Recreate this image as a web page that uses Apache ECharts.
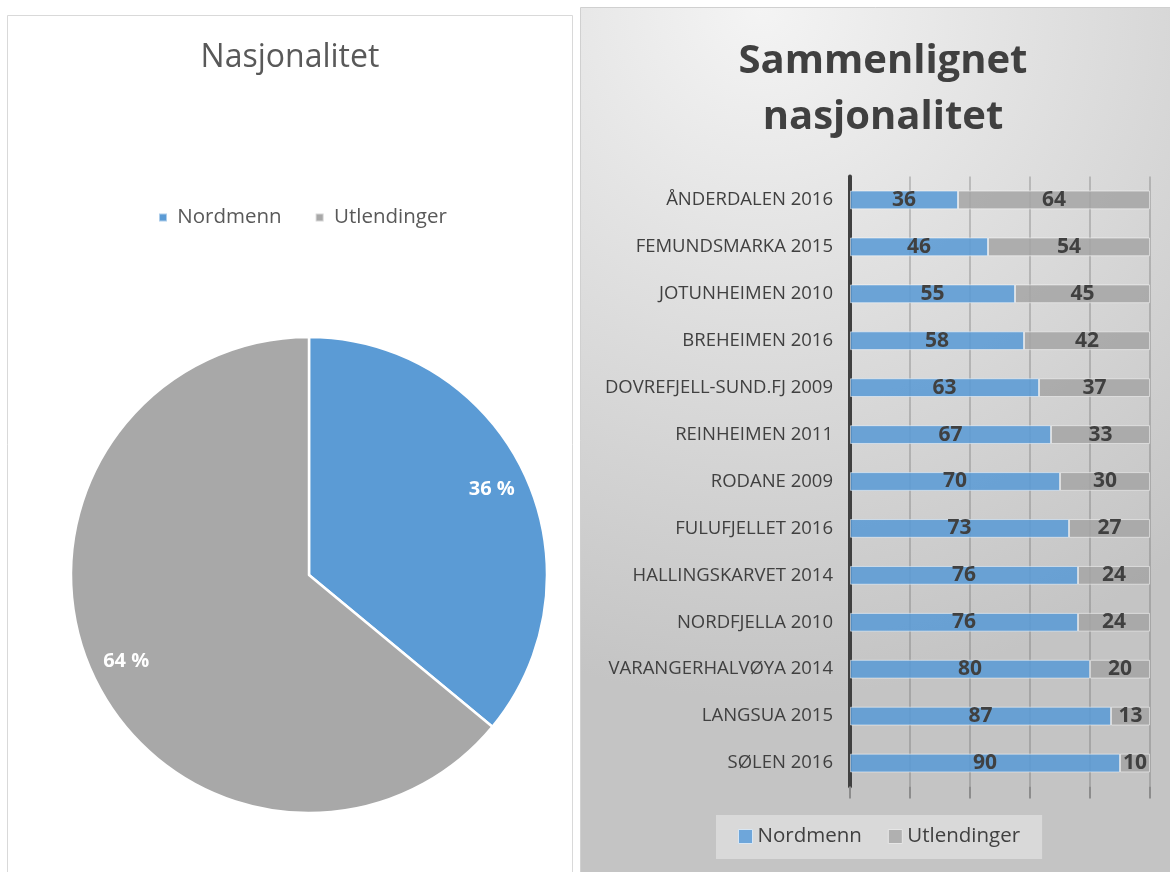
<!DOCTYPE html>
<html>
<head>
<meta charset="utf-8">
<script src="https://cdn.jsdelivr.net/npm/echarts@6/dist/echarts.min.js"></script>
<style>
  html, body { margin: 0; padding: 0; background: #fff; }
  #chart { width: 1170px; height: 872px; }
</style>
</head>
<body>
<div id="chart"></div>
<script>
// pie data
var pieNames = ['Nordmenn', 'Utlendinger']
var pieValues = [36, 64]

// bar data (top to bottom)
var categories = [
  'ÅNDERDALEN 2016', 'FEMUNDSMARKA 2015', 'JOTUNHEIMEN 2010', 'BREHEIMEN 2016',
  'DOVREFJELL-SUND.FJ 2009', 'REINHEIMEN 2011', 'RODANE 2009', 'FULUFJELLET 2016',
  'HALLINGSKARVET 2014', 'NORDFJELLA 2010', 'VARANGERHALVØYA 2014', 'LANGSUA 2015', 'SØLEN 2016'
]
var nordmenn = [36, 46, 55, 58, 63, 67, 70, 73, 76, 76, 80, 87, 90]
var utlendinger = [64, 54, 45, 42, 37, 33, 30, 27, 24, 24, 20, 13, 10]

var font = '"Open Sans", "Noto Sans", sans-serif'
var pieColors = ['#5b9bd5', '#a8a8a8']
var barColors = ['rgba(91,155,213,0.88)', 'rgba(165,165,165,0.85)']

var chart = echarts.init(document.getElementById('chart'))

var pieData = pieNames.map(function (n, i) {
  return { name: n, value: pieValues[i], itemStyle: { color: pieColors[i] } }
})

chart.setOption({
  textStyle: { fontFamily: font },
  animation: false,
  graphic: [
    {
      type: 'rect', z: -10,
      shape: { x: 7.5, y: 15.5, width: 565, height: 870 },
      style: { fill: '#fff', stroke: '#d9d9d9', lineWidth: 1 }
    },
    {
      type: 'rect', z: -10,
      shape: { x: 580.5, y: 7.5, width: 600, height: 880 },
      style: {
        stroke: '#d0d0d0', lineWidth: 1,
        fill: {
          type: 'radial', x: 0.3, y: 0.0, r: 1.15,
          colorStops: [
            { offset: 0, color: '#f4f4f4' },
            { offset: 1, color: '#c4c4c4' }
          ]
        }
      }
    }
  ],
  title: [
    {
      text: 'Nasjonalitet',
      left: 285, top: 37, textAlign: 'center',
      textStyle: { fontSize: 32, fontWeight: 'normal', color: '#595959', fontFamily: font }
    },
    {
      text: 'Sammenlignet\nnasjonalitet',
      left: 878, top: 29, textAlign: 'center',
      textStyle: { fontSize: 40, fontWeight: 'bold', color: '#404040', lineHeight: 56, fontFamily: font }
    }
  ],
  legend: [
    {
      left: 153, top: 202,
      icon: 'rect', itemWidth: 8, itemHeight: 8, itemGap: 33,
      formatter: function (n) { return ' ' + n },
      textStyle: { fontSize: 20.5, color: '#595959', fontFamily: font },
      data: [
        { name: 'Nordmenn', itemStyle: { color: pieColors[0] } },
        { name: 'Utlendinger', itemStyle: { color: pieColors[1] } }
      ]
    },
    {
      left: 716, top: 815,
      icon: 'rect', itemWidth: 14, itemHeight: 14, itemGap: 26,
      padding: [11, 22, 12, 22],
      backgroundColor: 'rgba(235,235,235,0.55)',
      textStyle: { fontSize: 20.5, color: '#404040', fontFamily: font },
      data: [
        { name: 'Nordmenn', itemStyle: { color: '#6ea6da', borderColor: '#d8e6f3', borderWidth: 1 } },
        { name: 'Utlendinger', itemStyle: { color: '#b0b0b0', borderColor: '#e6e6e6', borderWidth: 1 } }
      ]
    }
  ],
  grid: { left: 850, right: 20, top: 176.5, bottom: 85.5, containLabel: false },
  xAxis: {
    type: 'value', min: 0, max: 100, interval: 20,
    axisLine: { show: false },
    axisLabel: { show: false },
    axisTick: { show: true, length: 12, lineStyle: { color: '#8c8c8c', width: 2 } },
    splitLine: { show: true, lineStyle: { color: 'rgba(90,90,90,0.28)', width: 2 } }
  },
  yAxis: {
    type: 'category', inverse: true, data: categories,
    axisLine: { show: true, lineStyle: { color: '#404040', width: 4 } },
    axisTick: { show: false },
    axisLabel: { fontSize: 18.5, color: '#404040', margin: 17, fontFamily: font }
  },
  series: [
    {
      type: 'pie', name: 'Nasjonalitet',
      center: [309, 575], radius: [0, 238],
      startAngle: 90, clockwise: true,
      itemStyle: { borderColor: '#fff', borderWidth: 2.5 },
      label: { show: false },
      labelLine: { show: false },
      emphasis: { scale: false },
      data: pieData
    },
    {
      // transparent overlay only used to place the percent labels further out
      type: 'pie', name: 'labels', silent: true,
      center: [309, 575], radius: [0, 398],
      startAngle: 90, clockwise: true,
      itemStyle: { color: 'rgba(0,0,0,0)', borderWidth: 0 },
      label: {
        show: true, position: 'inside',
        formatter: function (p) { return Math.round(p.percent) + ' %' },
        color: '#fff', fontSize: 20, fontWeight: 'bold', fontFamily: font
      },
      labelLine: { show: false },
      data: pieNames.map(function (n, i) { return { name: n, value: pieValues[i] } })
    },
    {
      type: 'bar', name: 'Nordmenn', stack: 'tot', barWidth: '40%',
      data: nordmenn,
      itemStyle: { color: barColors[0], borderColor: 'rgba(255,255,255,0.5)', borderWidth: 1 },
      label: { show: true, position: 'inside', fontSize: 21, fontWeight: 'bold', color: '#404040', fontFamily: font }
    },
    {
      type: 'bar', name: 'Utlendinger', stack: 'tot', barWidth: '40%',
      data: utlendinger,
      itemStyle: { color: barColors[1], borderColor: 'rgba(255,255,255,0.5)', borderWidth: 1 },
      label: { show: true, position: 'inside', fontSize: 21, fontWeight: 'bold', color: '#404040', fontFamily: font }
    }
  ]
})
</script>
</body>
</html>
